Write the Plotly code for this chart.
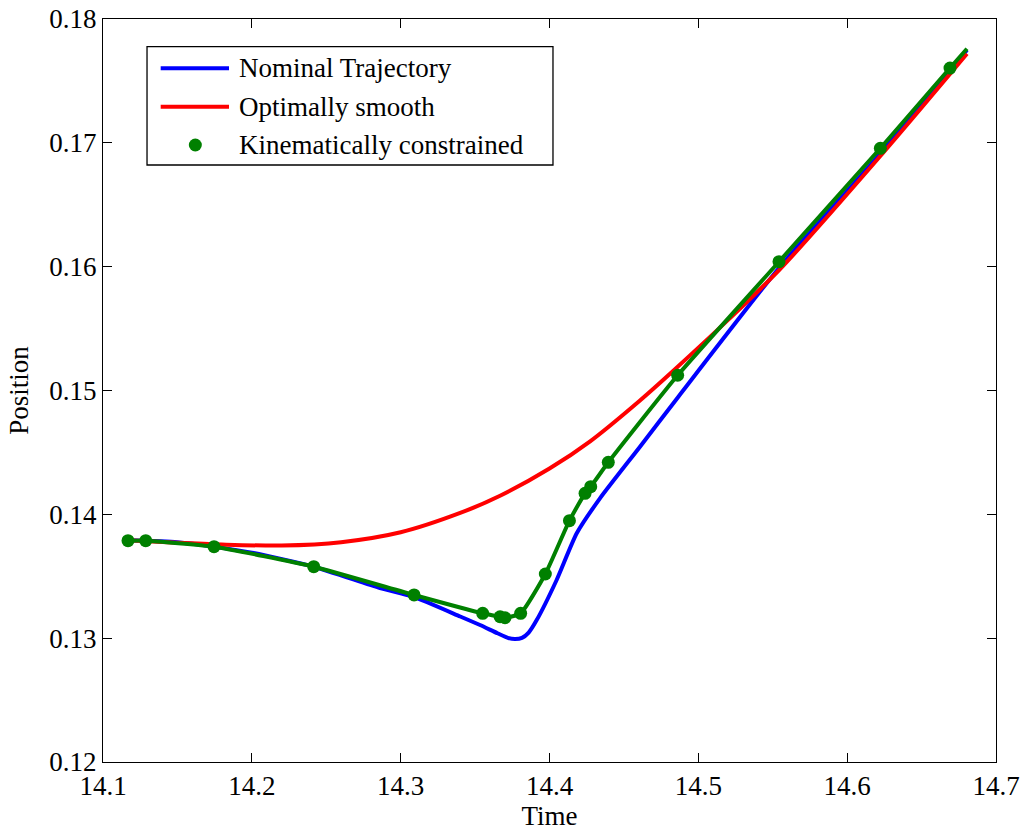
import plotly.graph_objects as go

# ---------------- data ----------------
nominal_t = [14.1168, 14.1500, 14.1746, 14.2000, 14.2416, 14.2861, 14.3083, 14.3400,
             14.3533, 14.3650, 14.3720, 14.3768, 14.3815, 14.3860, 14.3914, 14.4048,
             14.4183, 14.4339, 14.4608, 14.4866, 14.5549, 14.6220, 14.6805]
nominal_p = [0.13790, 0.13775, 0.13739, 0.13690, 0.13577, 0.13405, 0.13335, 0.13175,
             0.13106, 0.13040, 0.13003, 0.12993, 0.13002, 0.13045, 0.13146, 0.13470,
             0.13847, 0.14129, 0.14546, 0.14950, 0.16000, 0.16910, 0.17750]

smooth_t = [14.1168, 14.1500, 14.1800, 14.2200, 14.2600, 14.3000, 14.3400, 14.3668,
            14.4000, 14.4273, 14.4608, 14.4832, 14.5200, 14.5549, 14.6220, 14.6805]
smooth_p = [0.13790, 0.13770, 0.13756, 0.13748, 0.13775, 0.13855, 0.14011, 0.14150,
            0.14370, 0.14590, 0.14920, 0.15160, 0.15570, 0.15980, 0.16890, 0.17720]

kin_t = [14.1168, 14.1287, 14.1746, 14.2416, 14.3090, 14.3551, 14.3668, 14.3701,
         14.3806, 14.3972, 14.4134, 14.4239, 14.4277, 14.4395, 14.4861, 14.5542,
         14.6223, 14.6691]
kin_p = [0.13787, 0.13787, 0.13739, 0.13577, 0.13349, 0.13201, 0.13173, 0.13165,
         0.13201, 0.13518, 0.13949, 0.14170, 0.14223, 0.14420, 0.15123, 0.16040,
         0.16956, 0.17604]
# the constrained curve continues a little past its last sample
kin_line_t = kin_t + [14.6805]
kin_line_p = kin_p + [0.17760]

legend_labels = ["Nominal Trajectory", "Optimally smooth", "Kinematically constrained"]

BLUE, RED, GREEN = "#0000ff", "#ff0000", "#008000"
FONT = "Liberation Serif, Times New Roman, serif"
FS = 27

fig = go.Figure()
fig.add_trace(go.Scatter(x=nominal_t, y=nominal_p, mode="lines", name=legend_labels[0],
                         line=dict(color=BLUE, width=4, shape="spline", smoothing=0.6),
                         showlegend=False))
fig.add_trace(go.Scatter(x=smooth_t, y=smooth_p, mode="lines", name=legend_labels[1],
                         line=dict(color=RED, width=4, shape="spline", smoothing=0.8),
                         showlegend=False))
fig.add_trace(go.Scatter(x=kin_line_t, y=kin_line_p, mode="lines", name=legend_labels[2],
                         line=dict(color=GREEN, width=4, shape="spline", smoothing=0.5),
                         showlegend=False))
fig.add_trace(go.Scatter(x=kin_t, y=kin_p, mode="markers", name=legend_labels[2],
                         marker=dict(color=GREEN, size=13), showlegend=False))

# ---------------- custom legend (MATLAB style) ----------------
W, H = 893.0, 743.0
def px(x):
    return x / W
def py(y):
    return y / H

shapes = [dict(type="rect", xref="paper", yref="paper",
               x0=0.0493, x1=0.5039, y0=0.8035, y1=0.9627,
               line=dict(color="black", width=1.3), fillcolor="white", layer="above")]
rows = [0.9337, 0.8820, 0.8304]
for col, yy in zip([BLUE, RED], rows[:2]):
    shapes.append(dict(type="line", xref="paper", yref="paper", x0=0.0646, x1=0.1411,
                       y0=yy, y1=yy, line=dict(color=col, width=4), layer="above"))
shapes.append(dict(type="circle", xref="paper", yref="paper",
                   x0=0.1034 - px(6.5), x1=0.1034 + px(6.5),
                   y0=rows[2] - py(6.5), y1=rows[2] + py(6.5),
                   fillcolor=GREEN, line=dict(color=GREEN, width=0), layer="above"))
annotations = [dict(x=0.1497, y=yy, xref="paper", yref="paper", text=t, showarrow=False,
                    xanchor="left", yanchor="middle",
                    font=dict(family=FONT, size=FS, color="black"))
               for t, yy in zip(legend_labels, rows)]

axis_common = dict(showline=True, linecolor="black", linewidth=1, mirror="ticks",
                   ticks="inside", ticklen=9, tickcolor="black", showgrid=False,
                   zeroline=False, tickfont=dict(family=FONT, size=FS, color="black"))

fig.update_layout(
    width=1026, height=832,
    margin=dict(l=103, r=30, t=19, b=70, autoexpand=False),
    paper_bgcolor="white", plot_bgcolor="white",
    font=dict(family=FONT, size=FS, color="black"),
    xaxis=dict(range=[14.1, 14.7], dtick=0.1, tick0=14.1,
               title=dict(text="Time", font=dict(family=FONT, size=FS), standoff=0),
               **axis_common),
    yaxis=dict(range=[0.12, 0.18], dtick=0.01, tick0=0.12, tickformat=".2f",
               title=dict(text="Position", font=dict(family=FONT, size=FS), standoff=12),
               **axis_common),
    shapes=shapes, annotations=annotations, showlegend=False,
)

fig.write_html("out.html")
